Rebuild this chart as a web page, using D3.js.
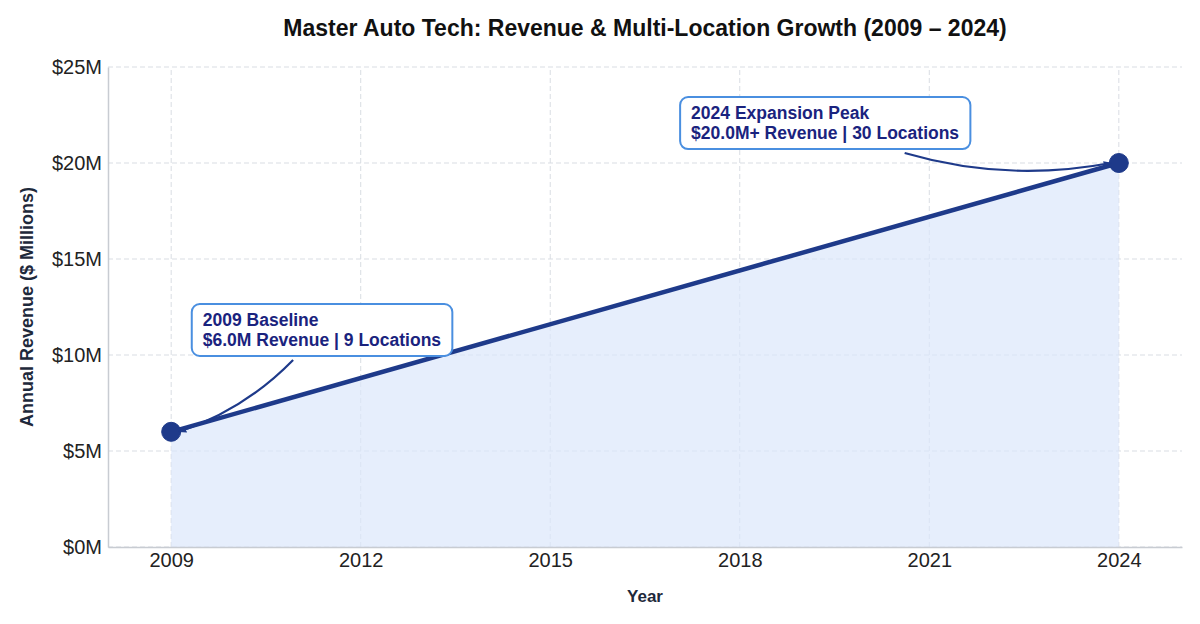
<!DOCTYPE html>
<html lang="en">
<head>
<meta charset="UTF-8">
<script src="https://cdn.jsdelivr.net/npm/d3@7"></script>
<title>Master Auto Tech</title>
<style>
  body { margin: 0; background: #fff; }
  svg { font-family: "Liberation Sans", Arial, sans-serif; }
</style>
</head>
<body>
<svg width="1200" height="624"></svg>
<script>
    // data
    const years = [2009, 2024];
    const revenue = [6.0, 20.0];
    const xTicks = [2009, 2012, 2015, 2018, 2021, 2024];
    const yTicks = [0, 5, 10, 15, 20, 25];
    const notes = [
        { year: 2009, value: 6.0, lines: ["2009 Baseline", "$6.0M Revenue | 9 Locations"], at: [2009.50, 11.51], from: [2010.93, 9.74], rad: 0.12 },
        { year: 2024, value: 20.0, lines: ["2024 Expansion Peak", "$20.0M+ Revenue | 30 Locations"], at: [2017.23, 22.29], from: [2020.61, 20.52], rad: -0.12 }
    ];

    const svg = d3.select('svg');
    const margin = { left: 108, right: 18, top: 67, bottom: 77 };
    const W = 1200, H = 624;

    const x = d3.scaleLinear().domain([2008, 2025]).range([margin.left, W - margin.right]);
    const y = d3.scaleLinear().domain([0, 25]).range([H - margin.bottom, margin.top]);

    const data = years.map((d, i) => ({ year: d, value: revenue[i] }));

    // grid
    const grid = svg.append('g');
    grid.selectAll('.gx').data(xTicks).join('line')
        .attr('x1', d => x(d)).attr('x2', d => x(d))
        .attr('y1', y(0)).attr('y2', margin.top)
        .attr('stroke', '#d9dde3').attr('stroke-dasharray', '5,3').attr('stroke-width', 1);
    grid.selectAll('.gy').data(yTicks).join('line')
        .attr('x1', margin.left).attr('x2', W - margin.right)
        .attr('y1', d => y(d)).attr('y2', d => y(d))
        .attr('stroke', '#d9dde3').attr('stroke-dasharray', '5,3').attr('stroke-width', 1);

    // area + line
    const area = d3.area().x(d => x(d.year)).y0(y(0)).y1(d => y(d.value));
    svg.append('path').datum(data).attr('d', area).attr('fill', '#dbe7fb').attr('opacity', 0.7);
    const line = d3.line().x(d => x(d.year)).y(d => y(d.value));
    svg.append('path').datum(data).attr('d', line)
        .attr('fill', 'none').attr('stroke', '#1e3a8a').attr('stroke-width', 4.5);
    svg.selectAll('.pt').data(data).join('circle')
        .attr('cx', d => x(d.year)).attr('cy', d => y(d.value)).attr('r', 9.5)
        .attr('fill', '#1e3a8a').attr('stroke', '#1e3a8a').attr('stroke-width', 1);

    // axes
    const xAxis = d3.axisBottom(x).tickValues(xTicks).tickFormat(d3.format('d')).tickSize(0).tickPadding(6);
    const gx = svg.append('g').attr('transform', `translate(0,${y(0)})`).call(xAxis);
    const yAxis = d3.axisLeft(y).tickValues(yTicks).tickFormat(d => `$${d}M`).tickSize(0).tickPadding(6);
    const gy = svg.append('g').attr('transform', `translate(${margin.left},0)`).call(yAxis);
    [gx, gy].forEach(g => {
        g.select('.domain').attr('stroke', '#c8ccd2').attr('stroke-width', 1.5);
        g.selectAll('text').attr('font-size', 20).attr('fill', '#222').attr('font-family', '"Liberation Sans", Arial, sans-serif');
    });

    // labels
    svg.append('text').attr('x', (margin.left + W - margin.right) / 2).attr('y', 36)
        .attr('text-anchor', 'middle').attr('font-size', 23).attr('font-weight', 'bold').attr('fill', '#111')
        .text('Master Auto Tech: Revenue & Multi-Location Growth (2009 \u2013 2024)');
    svg.append('text').attr('x', (margin.left + W - margin.right) / 2).attr('y', 602)
        .attr('text-anchor', 'middle').attr('font-size', 17).attr('font-weight', 'bold').attr('fill', '#1e293b')
        .text('Year');
    svg.append('text').attr('transform', `translate(33,${(margin.top + H - margin.bottom) / 2}) rotate(-90)`)
        .attr('text-anchor', 'middle').attr('font-size', 18).attr('font-weight', 'bold').attr('fill', '#1e293b')
        .text('Annual Revenue ($ Millions)');

    // annotations
    svg.append('defs').append('marker').attr('id', 'arr')
        .attr('viewBox', '0 0 10 10').attr('refX', 9).attr('refY', 5)
        .attr('markerWidth', 8).attr('markerHeight', 8).attr('orient', 'auto')
        .attr('markerUnits', 'userSpaceOnUse')
        .append('path').attr('d', 'M0,1 L10,5 L0,9 z').attr('fill', '#1e3a8a');

    notes.forEach(n => {
        const g = svg.append('g');
        const tx = x(n.at[0]), ty = y(n.at[1]);
        const txt = g.append('text').attr('font-size', 17.5).attr('font-weight', 'bold').attr('fill', '#1a237e');
        n.lines.forEach((l, i) => txt.append('tspan').attr('x', tx).attr('y', ty + i * 20).text(l));
        const bb = txt.node().getBBox();
        g.insert('rect', 'text')
            .attr('x', bb.x - 11).attr('y', bb.y - 6).attr('width', bb.width + 22).attr('height', bb.height + 12)
            .attr('rx', 8).attr('fill', '#fff').attr('stroke', '#4a8fe0').attr('stroke-width', 2);
        // curved arrow (arc3 style)
        const x0 = x(n.from[0]), y0 = y(n.from[1]);
        const x1 = x(n.year) + (n.year === 2009 ? 8 : -8), y1 = y(n.value);
        const mx = (x0 + x1) / 2, my = (y0 + y1) / 2;
        const dx = x1 - x0, dy = y1 - y0;
        const cx = mx + n.rad * dy, cy = my - n.rad * dx;
        svg.append('path').attr('d', `M${x0},${y0} Q${cx},${cy} ${x1},${y1}`)
            .attr('fill', 'none').attr('stroke', '#1e3a8a').attr('stroke-width', 2.2)
            .attr('marker-end', 'url(#arr)');
    });
</script>
</body>
</html>
